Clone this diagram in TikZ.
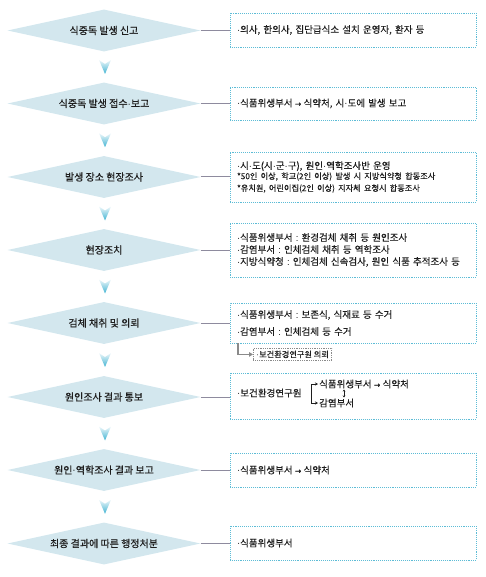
\documentclass[tikz,border=0pt]{standalone}
\usepackage{fontspec}
\setmainfont{Noto Sans CJK KR}
\newfontfamily\latinf{Liberation Sans}
\newfontfamily\symf{DejaVu Sans}
\newcommand\md{{\latinf ·}}
\newcommand\cln{{\latinf\ :\ }}
\newcommand\rarr{\hspace{0.25em}{\symf\fontsize{7.5}{8}\selectfont\addfontfeature{FakeBold=1}→}\hspace{0.25em}}
\usetikzlibrary{shapes.geometric,calc,arrows.meta}
\definecolor{dfill}{HTML}{D3E7EE}
\definecolor{txt}{HTML}{1E1E1E}
\definecolor{bborder}{HTML}{5DBCD6}
\definecolor{conn}{HTML}{8E8B9E}
\definecolor{chevtop}{HTML}{EEF7FA}
\definecolor{chevbot}{HTML}{3FB3D2}
\definecolor{subgray}{HTML}{8A8A8A}
\tikzset{
  dia/.style={diamond, aspect=4.6, minimum width=193pt, minimum height=42pt, inner sep=0pt,
    fill=dfill, draw=none, text=txt, font=\fontsize{10}{12}\selectfont\addfontfeature{FakeBold=0.6}},
  infobox/.style={draw=bborder, densely dotted, line width=0.9pt, minimum width=246pt,
    text width=232pt, inner xsep=7pt, inner ysep=0pt, align=left, text=txt,
    font=\fontsize{9.5}{12}\selectfont\addfontfeature{FakeBold=0.3}},
  btext/.style={inner sep=1pt, text=txt, font=\fontsize{9.5}{12}\selectfont\addfontfeature{FakeBold=0.3}},
  subbox/.style={draw=subgray, densely dotted, line width=0.8pt, inner xsep=3pt, inner ysep=1pt,
    minimum height=12pt, text=txt, font=\fontsize{8.2}{10}\selectfont\addfontfeature{FakeBold=0.3}},
  conline/.style={draw=conn, line width=1pt},
  elbow/.style={draw=subgray, line width=1.1pt, -{Triangle[length=4pt,width=4.5pt]}},
  brk/.style={draw=txt, line width=0.7pt},
}
\newcommand\chev[1]{\shade[top color=chevtop, bottom color=chevbot]
  ([shift={(-6,-7)}]#1) -- ([shift={(0,-3)}]#1) -- ([shift={(6,-7)}]#1) -- ([shift={(0,7)}]#1) -- cycle;}
\begin{document}
\begin{tikzpicture}[x=1pt,y=-1pt]
\useasboundingbox (0,0) rectangle (486,577);
% diamonds
\node[dia] (d1) at (104,30.5) {식중독 발생 신고};
\node[dia] (d2) at (104,103.5) {식중독 발생 접수\md 보고};
\node[dia] (d3) at (104,177) {발생 장소 현장조사};
\node[dia] (d4) at (104,250) {현장조치};
\node[dia] (d5) at (104,323) {검체 채취 및 의뢰};
\node[dia] (d6) at (104,397) {원인조사 결과 통보};
\node[dia] (d7) at (104,470) {원인\md 역학조사 결과 보고};
\node[dia] (d8) at (104,543.5) {최종 결과에 따른 행정처분};
% chevrons
\foreach \a/\b [count=\i] in {d1/d2,d2/d3,d3/d4,d4/d5,d5/d6,d6/d7,d7/d8}{
  \coordinate (m\i) at ($(\a.south)!0.5!(\b.north)+(1,0)$);
  \chev{m\i}
}
% boxes
\node[infobox, minimum height=34pt] (b1) at (353,30) {\md 의사, 한의사, 집단급식소 설치 운영자, 환자 등};
\node[infobox, minimum height=33pt] (b2) at (353,103.5) {\md 식품위생부서\rarr 식약처, 시\md 도에 발생 보고};
\node[infobox, minimum height=50pt] (b3) at (353,177) {\md 시\md 도(시\md 군\md 구), 원인\md 역학조사반 운영\\[-1.5pt]
  {\fontsize{8.2}{11.5}\selectfont *50인 이상, 학교(2인 이상) 발생 시 지방식약청 합동조사\\{}%
  *유치원, 어린이집(2인 이상) 지자체 요청시 합동조사}};
\node[infobox, minimum height=54pt] (b4) at (353,250) {\md 식품위생부서\cln 환경검체 채취 등 원인조사\\
  \md 감염부서\cln 인체검체 채취 등 역학조사\\
  \md 지방식약청\cln 인체검체 신속검사, 원인 식품 추적조사 등};
\node[infobox, minimum height=40pt] (b5) at (353,323) {\md 식품위생부서\cln 보존식, 식재료 등 수거\\[5pt]
  \md 감염부서\cln 인체검체 등 수거};
\node[infobox, minimum height=46pt] (b6) at (353,396) {};
\node[infobox, minimum height=34pt] (b7) at (353,470) {\md 식품위생부서\rarr 식약처};
\node[infobox, minimum height=34pt] (b8) at (353,543) {\md 식품위생부서};
% connectors
\foreach \i in {1,...,8}{
  \draw[conline] (d\i.east) -- (d\i.east -| b\i.west);
}
% sub box under row 5
\node[subbox, anchor=north west] (s5) at (253,348) {\md 보건환경연구원 의뢰};
\coordinate (e5) at (238,343);
\draw[elbow] (e5) |- (s5.west);
% row 6 contents
\node[btext, anchor=west] (r6a) at (236,393) {\md 보건환경연구원};
\node[btext, anchor=west] (r6b) at (318,384) {식품위생부서\rarr 식약처};
\node[btext, anchor=west] (r6c) at (318,403) {감염부서};
\coordinate (k1) at ([xshift=-7pt]r6b.west);
\coordinate (k2) at ([xshift=-7pt]r6c.west);
\draw[brk] (k1) -- (k2);
\draw[brk, -{Stealth[length=3pt,width=3pt]}] (k1) -- (r6b.west);
\draw[brk, -{Stealth[length=3pt,width=3pt]}] (k2) -- (r6c.west);
\draw[brk, {Stealth[length=2pt,width=2.5pt]}-{Stealth[length=2pt,width=2.5pt]}]
  ([xshift=26pt]r6b.south west) -- ([xshift=26pt]r6c.north west);
\end{tikzpicture}
\end{document}
